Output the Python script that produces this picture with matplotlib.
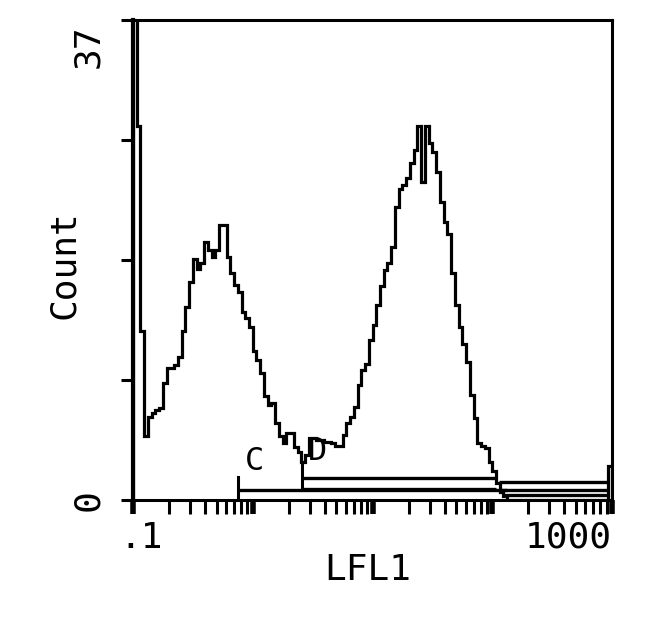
import numpy as np
import matplotlib
matplotlib.use('Agg')
import matplotlib.pyplot as plt
from matplotlib.ticker import LogLocator, NullFormatter

# histogram counts, 128 log channels from 0.1 to 1000
counts = [40, 28.8, 13.0, 4.9, 6.4, 6.7, 6.9, 7.1, 9.0, 10.2,
          10.2, 10.4, 11.0, 13.0, 14.9, 16.8, 18.6, 17.8, 18.3, 19.9,
          19.3, 18.7, 19.3, 21.2, 21.2, 18.7, 17.5, 16.6, 16.0, 14.5,
          14.0, 13.3, 11.5, 10.8, 9.8, 8.0, 7.3, 7.5, 5.9, 4.9,
          4.4, 5.2, 5.2, 4.1, 3.7, 2.9, 3.5, 4.8, 4.8, 4.6,
          4.6, 4.5, 4.5, 4.4, 4.2, 4.2, 5.0, 5.9, 6.4, 7.2,
          8.9, 10.0, 10.5, 12.3, 13.5, 15.0, 16.5, 17.7, 18.3, 19.5,
          22.6, 24.0, 24.3, 24.8, 26.0, 27.0, 28.8, 24.5, 28.8, 27.5,
          26.8, 25.3, 23.0, 21.4, 20.5, 17.5, 15.0, 13.3, 12.0, 10.6,
          8.1, 6.3, 4.4, 4.2, 4.0, 2.9, 2.2, 1.3, 0.6, 0.3,
          0, 0, 0, 0, 0, 0, 0, 0, 0, 0,
          0, 0, 0, 0, 0, 0, 0, 0, 0, 0,
          0, 0, 0, 0, 0, 0, 0, 2.6]
x_min, x_max = 0.1, 1000
y_max = 37
y_ticks = [0, 9.25, 18.5, 27.75, 37]

# gate markers: (start, end) in LFL1 units
gate_c = (0.75, 133)
gate_d = (2.56, 108)
gate_right = (114, 950)

edges = np.logspace(np.log10(x_min), np.log10(x_max), len(counts) + 1)

fig = plt.figure(figsize=(6.5, 6.24), dpi=100)
ax = fig.add_axes([133 / 650, 1 - 500 / 624, 479 / 650, 480 / 624])

ax.stairs(counts, edges, color='black', lw=2.3)

ax.set_xscale('log')
ax.set_xlim(x_min, x_max)
ax.set_ylim(0, y_max)
ax.xaxis.set_major_locator(LogLocator(base=10, numticks=10))
ax.xaxis.set_minor_locator(LogLocator(base=10, subs=np.arange(2, 10), numticks=20))
ax.xaxis.set_major_formatter(NullFormatter())
ax.xaxis.set_minor_formatter(NullFormatter())
ax.set_yticks(y_ticks)
ax.set_yticklabels([])
ax.tick_params(axis='x', which='both', direction='out', length=10, width=2.2, color='black')
ax.tick_params(axis='x', which='major', width=4)
ax.tick_params(axis='y', direction='out', length=9, width=2.2)
for s in ax.spines.values():
    s.set_linewidth(2.2)
ax.spines['left'].set_linewidth(3)

# gate bars
k = y_max / 480.0
def hbar(x0, x1, ypx, lw=2.4):
    ax.plot([x0, x1], [(500 - ypx) * k] * 2, color='black', lw=lw,
            solid_capstyle='butt', clip_on=False)

hbar(gate_c[0], gate_c[1], 490)
ax.plot([gate_c[0]] * 2, [(500 - 477) * k, 0], color='black', lw=2.2, clip_on=False)
hbar(gate_d[0], gate_d[1], 478)
hbar(gate_d[0], gate_d[1], 489)
ax.plot([gate_d[0]] * 2, [(500 - 463) * k, (500 - 489) * k], color='black', lw=2.2, clip_on=False)
hbar(gate_right[0], gate_right[1], 482)
hbar(gate_right[0], gate_right[1], 489.5)
hbar(gate_right[0] * 1.1, gate_right[1], 494.5)

font = {'family': 'DejaVu Sans Mono', 'size': 26}
small = {'family': 'DejaVu Sans Mono', 'size': 23}
ax.text(1.04, (500 - 462) * k, 'C', ha='center', va='center', **small)
ax.text(3.48, (500 - 452) * k, 'D', ha='center', va='center', **small)

# tick labels and axis titles
xt = ax.get_xaxis_transform()
yt = ax.get_yaxis_transform()
ax.text(0.117, -0.079, '.1', ha='center', va='center', transform=xt, **font)
ax.text(1000, -0.079, '1000', ha='right', va='center', transform=xt, **font)
ax.text(-0.094, 0, '0', ha='center', va='center', rotation=90, transform=yt, **font)
ax.text(-0.094, 35.0, '37', ha='center', va='center', rotation=90, transform=yt, **font)
ax.text(0.49, -0.146, 'LFL1', ha='center', va='center', transform=ax.transAxes, **font)
ax.text(-0.144, 0.49, 'Count', ha='center', va='center', rotation=90,
        transform=ax.transAxes, **font)

fig.savefig('out.png', dpi=100)
